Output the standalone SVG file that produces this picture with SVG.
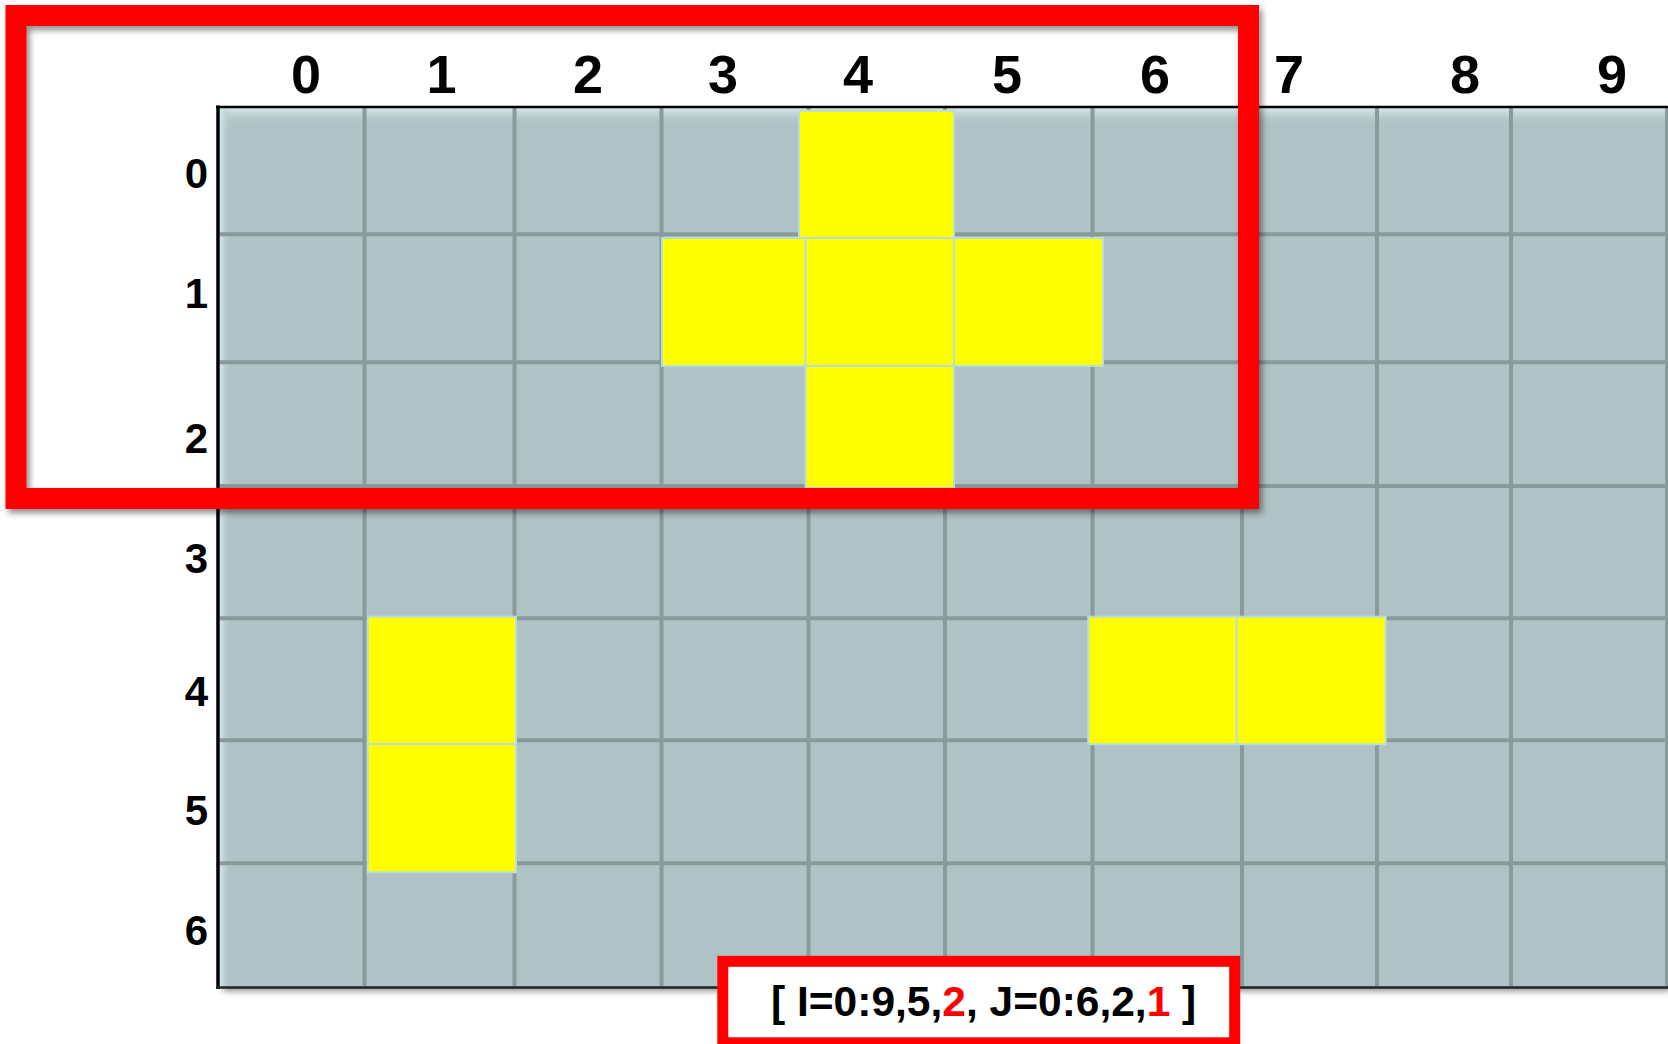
<svg xmlns="http://www.w3.org/2000/svg" width="1668" height="1044" viewBox="0 0 1668 1044">
<defs>
<style>
.lbl{font-family:"Liberation Sans",Arial,sans-serif;font-weight:bold;fill:#000}
.col{font-size:54px;text-anchor:middle}
.row{font-size:42px;text-anchor:end}
.gl{stroke:#889a9c;stroke-width:4;fill:none}
.yc{fill:#ffff00;stroke:#b6dde2;stroke-width:2}
.red{fill:#ff0000}
</style>
<linearGradient id="topHi" x1="0" y1="0" x2="0" y2="1">
<stop offset="0" stop-color="#d6eaec"/>
<stop offset="1" stop-color="#afc2c5" stop-opacity="0"/>
</linearGradient>
<linearGradient id="leftHi" x1="0" y1="0" x2="1" y2="0">
<stop offset="0" stop-color="#d2e6e9"/>
<stop offset="1" stop-color="#afc2c5" stop-opacity="0"/>
</linearGradient>
<filter id="shadow" x="-5%" y="-5%" width="110%" height="115%">
<feDropShadow dx="3" dy="4" stdDeviation="3" flood-color="#000" flood-opacity="0.45"/>
</filter>
</defs>
<rect width="1668" height="1044" fill="#ffffff"/>

<g id="grid">
<rect x="220" y="108" width="1448" height="879" fill="#afc2c5" filter="url(#shadow)"/>
<rect x="220" y="108" width="1448" height="18" fill="url(#topHi)"/>
<rect x="220" y="108" width="12" height="879" fill="url(#leftHi)"/>
<g class="gl">
<line x1="364.5" y1="108" x2="364.5" y2="986"/>
<line x1="514.5" y1="108" x2="514.5" y2="986"/>
<line x1="661.5" y1="108" x2="661.5" y2="986"/>
<line x1="808.5" y1="108" x2="808.5" y2="986"/>
<line x1="945" y1="108" x2="945" y2="986"/>
<line x1="1092.5" y1="108" x2="1092.5" y2="986"/>
<line x1="1242" y1="108" x2="1242" y2="986"/>
<line x1="1377" y1="108" x2="1377" y2="986"/>
<line x1="1511" y1="108" x2="1511" y2="986"/>
<line x1="1667" y1="108" x2="1667" y2="986"/>
<line x1="220" y1="234.3" x2="1668" y2="234.3"/>
<line x1="220" y1="362.3" x2="1668" y2="362.3"/>
<line x1="220" y1="486" x2="1668" y2="486"/>
<line x1="220" y1="618.3" x2="1668" y2="618.3"/>
<line x1="220" y1="740.3" x2="1668" y2="740.3"/>
<line x1="220" y1="863.3" x2="1668" y2="863.3"/>
</g>
<line x1="218" y1="105.5" x2="218" y2="989" stroke="#000" stroke-width="3.5"/>
<line x1="216" y1="107" x2="1668" y2="107" stroke="#000" stroke-width="2.5"/>
<line x1="216" y1="987.5" x2="1668" y2="987.5" stroke="#1e2526" stroke-width="2.5"/>
</g>

<g id="highlight-cells">
<rect class="yc" x="799" y="110.7" width="155" height="127.3"/>
<rect class="yc" x="662" y="238" width="143.6" height="128"/>
<rect class="yc" x="805.6" y="238" width="148.4" height="128"/>
<rect class="yc" x="954" y="238" width="149" height="128"/>
<rect class="yc" x="805.6" y="366" width="148.4" height="122"/>
<rect class="yc" x="367.7" y="616.7" width="148.3" height="127.3"/>
<rect class="yc" x="367.7" y="744" width="148.3" height="128.3"/>
<rect class="yc" x="1088.3" y="616.7" width="148.4" height="127.6"/>
<rect class="yc" x="1236.7" y="616.7" width="149" height="127.6"/>
</g>

<g id="col-labels" class="lbl col">
<text x="306" y="92.5">0</text>
<text x="441.5" y="92.5">1</text>
<text x="588" y="92.5">2</text>
<text x="723" y="92.5">3</text>
<text x="858" y="92.5">4</text>
<text x="1007" y="92.5">5</text>
<text x="1155" y="92.5">6</text>
<text x="1289" y="92.5">7</text>
<text x="1465" y="92.5">8</text>
<text x="1612" y="92.5">9</text>
</g>

<g id="row-labels" class="lbl row">
<text x="208" y="188">0</text>
<text x="208" y="308">1</text>
<text x="208" y="453">2</text>
<text x="208" y="573">3</text>
<text x="208" y="706">4</text>
<text x="208" y="825">5</text>
<text x="208" y="945">6</text>
</g>

<g id="frame">
<rect x="16" y="15.5" width="1232.5" height="483" fill="none" stroke="#ff0000" stroke-width="21" filter="url(#shadow)"/>
</g>

<g id="index-box">
<rect x="722.8" y="961.3" width="511.9" height="81.5" fill="#ffffff" stroke="#ff0000" stroke-width="11"/>
<text class="lbl" x="771" y="1016" font-size="42.5">[ I=0:9,5,<tspan class="red">2</tspan>, J=0:6,2,<tspan class="red">1</tspan> ]</text>
</g>
</svg>
